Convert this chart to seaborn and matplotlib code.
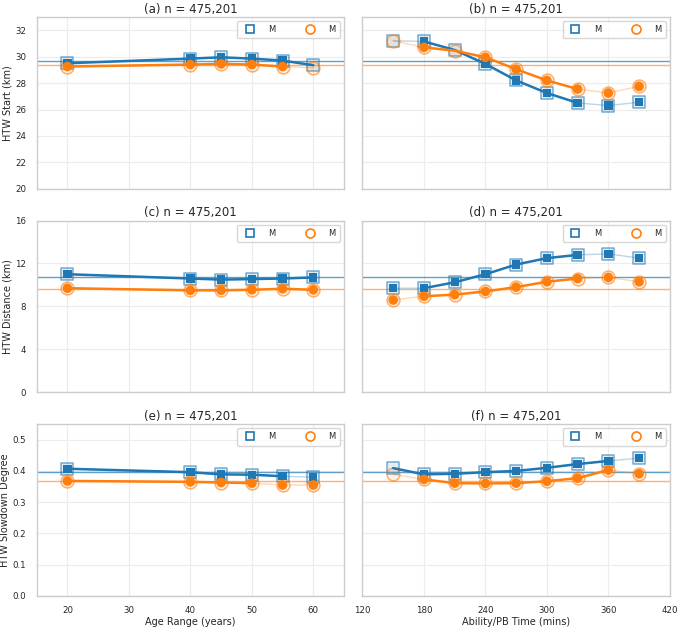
import numpy as np
import pandas as pd
import matplotlib.pyplot as plt
from matplotlib.colors import to_rgb
from matplotlib.lines import Line2D
import seaborn as sns

sns.set_theme(style="whitegrid")
plt.rcParams['font.family'] = ['DejaVu Sans']

BLUE = '#1f77b4'
ORANGE = '#ff7f0e'

# x positions
age_x = [20, 40, 45, 50, 55, 60]
pb_x = [150, 180, 210, 240, 270, 300, 330, 360, 390]

# HTW start (km)
start_age_blue = [29.5, 29.85, 29.95, 29.85, 29.7, 29.35]
start_age_orange = [29.25, 29.4, 29.45, 29.4, 29.25, 29.15]
start_pb_blue = [31.2, 31.15, 30.5, 29.45, 28.2, 27.25, 26.5, 26.3, 26.55]
start_pb_orange = [31.2, 30.7, 30.45, 29.95, 29.05, 28.2, 27.55, 27.25, 27.75]

# HTW distance (km)
dist_age_blue = [11.0, 10.6, 10.5, 10.55, 10.6, 10.7]
dist_age_orange = [9.7, 9.5, 9.5, 9.55, 9.65, 9.55]
dist_pb_blue = [9.7, 9.7, 10.25, 11.0, 11.9, 12.5, 12.8, 12.9, 12.5]
dist_pb_orange = [8.6, 8.95, 9.1, 9.4, 9.8, 10.3, 10.6, 10.7, 10.3]

# HTW slowdown degree
slow_age_blue = [0.407, 0.396, 0.389, 0.388, 0.383, 0.380]
slow_age_orange = [0.368, 0.365, 0.363, 0.361, 0.355, 0.355]
slow_pb_blue = [0.409, 0.389, 0.391, 0.396, 0.400, 0.410, 0.422, 0.432, 0.441]
slow_pb_orange = [0.389, 0.373, 0.361, 0.360, 0.361, 0.367, 0.377, 0.403, 0.391]

# overall means (horizontal lines)
mean_blue = [29.65, 10.75, 0.397]
mean_orange = [29.35, 9.65, 0.367]

# filled (significant) points
filled_age_a = ([1, 1, 1, 1, 1, 0], [1, 1, 1, 1, 1, 0])
filled_pb_b = ([0, 1, 0, 1, 1, 1, 1, 1, 1], [0, 1, 0, 1, 1, 1, 1, 1, 1])
filled_age_c = ([1] * 6, [1] * 6)
filled_pb_d = ([1] * 9, [1] * 9)
filled_age_e = ([1] * 6, [1] * 6)
filled_pb_f = ([0, 1, 1, 1, 1, 1, 1, 1, 1], [0, 1, 1, 1, 1, 1, 1, 1, 1])

# index range of the bold trend line (blue, orange)
thick_a = ((0, 5), (0, 4))
thick_b = ((1, 6), (1, 6))
thick_c = ((0, 5), (0, 5))
thick_d = ((1, 6), (1, 6))
thick_e = ((0, 4), (0, 3))
thick_f = ((0, 7), (1, 7))

panels = [
    ("(a)", age_x, start_age_blue, start_age_orange, filled_age_a, thick_a, 0),
    ("(b)", pb_x, start_pb_blue, start_pb_orange, filled_pb_b, thick_b, 0),
    ("(c)", age_x, dist_age_blue, dist_age_orange, filled_age_c, thick_c, 1),
    ("(d)", pb_x, dist_pb_blue, dist_pb_orange, filled_pb_d, thick_d, 1),
    ("(e)", age_x, slow_age_blue, slow_age_orange, filled_age_e, thick_e, 2),
    ("(f)", pb_x, slow_pb_blue, slow_pb_orange, filled_pb_f, thick_f, 2),
]

fig, axes = plt.subplots(3, 2, figsize=(6.8, 6.28), dpi=100, sharex='col', sharey='row')
fig.subplots_adjust(left=0.054, right=0.985, top=0.973, bottom=0.051, hspace=0.184, wspace=0.06)


def draw_series(ax, x, y, filled, thick, color, marker, big, small):
    df = pd.DataFrame({'x': x, 'y': y, 'f': filled})
    sns.lineplot(data=df, x='x', y='y', ax=ax, color=color, lw=1, alpha=0.3, zorder=2)
    t0, t1 = thick
    sns.lineplot(data=df.iloc[t0:t1 + 1], x='x', y='y', ax=ax, color=color, lw=1.8, zorder=4)
    sns.scatterplot(data=df, x='x', y='y', ax=ax, marker=marker, s=big,
                    facecolor=(*to_rgb(color), 0.12),
                    edgecolor=(*to_rgb(color), 0.6),
                    linewidth=1.1, zorder=3, legend=False)
    sns.scatterplot(data=df[df['f'] == 1], x='x', y='y', ax=ax, marker=marker, s=small,
                    color=color, edgecolor='none', zorder=5, legend=False)


for ax, (tag, x, yb, yo, filled, thick, row) in zip(axes.flat, panels):
    draw_series(ax, x, yb, filled[0], thick[0], BLUE, 's', 70, 36)
    draw_series(ax, x, yo, filled[1], thick[1], ORANGE, 'o', 85, 48)
    ax.axhline(mean_blue[row], color=BLUE, lw=1, alpha=0.7, zorder=1)
    ax.axhline(mean_orange[row], color=ORANGE, lw=1, alpha=0.6, zorder=1)
    ax.set_title(f"{tag} n = 475,201", fontsize=8.5, pad=3)
    ax.set_xlabel("")
    ax.set_ylabel("")
    ax.grid(color='#ececec', lw=0.8)
    for sp in ax.spines.values():
        sp.set_color('#cccccc')
        sp.set_linewidth(1)
    ax.tick_params(labelsize=6.2, pad=1.5)
    handles = [Line2D([], [], ls='none', marker='s', ms=6, mfc='none', mec=BLUE, mew=1.2),
               Line2D([], [], ls='none', marker='o', ms=6.5, mfc='none', mec=ORANGE, mew=1.2)]
    ax.legend(handles, ["M", "M"], loc='upper right', ncol=2, fontsize=6,
              columnspacing=3.2, handletextpad=1.2, borderpad=0.5, frameon=True)

axes[0, 0].set_ylim(20, 33)
axes[0, 0].set_yticks(np.arange(20, 33, 2))
axes[1, 0].set_ylim(0, 16)
axes[1, 0].set_yticks([0, 4, 8, 12, 16])
axes[2, 0].set_ylim(0, 0.55)
axes[2, 0].set_yticks(np.arange(0, 0.51, 0.1))
axes[2, 0].set_xlim(15, 65)
axes[2, 0].set_xticks([20, 30, 40, 50, 60])
axes[2, 1].set_xlim(120, 420)
axes[2, 1].set_xticks(np.arange(120, 421, 60))

axes[0, 0].set_ylabel("HTW Start (km)", fontsize=7, labelpad=2)
axes[1, 0].set_ylabel("HTW Distance (km)", fontsize=7, labelpad=2)
axes[2, 0].set_ylabel("HTW Slowdown Degree", fontsize=7, labelpad=2)
axes[2, 0].set_xlabel("Age Range (years)", fontsize=7, labelpad=1)
axes[2, 1].set_xlabel("Ability/PB Time (mins)", fontsize=7, labelpad=1)

fig.savefig("out.png", dpi=100)
